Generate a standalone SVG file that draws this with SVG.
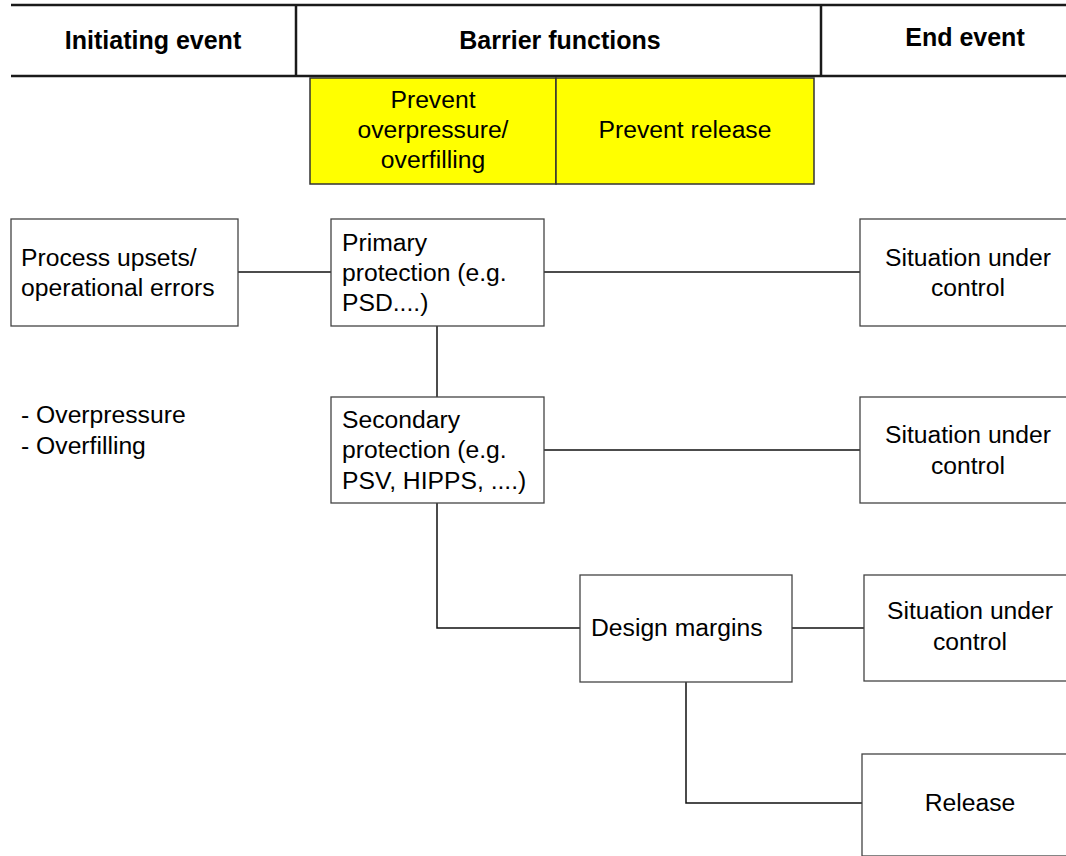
<svg xmlns="http://www.w3.org/2000/svg" width="1066" height="856" viewBox="0 0 1066 856">
  <style>
    text { font-family: "Liberation Sans", Arial, sans-serif; font-size: 24.7px; fill: #000; }
    .hdr { font-weight: bold; font-size: 25px; text-anchor: middle; }
    .mid { text-anchor: middle; }
    .hline { stroke: #1a1a1a; stroke-width: 2.5; fill: none; }
    .box { fill: #fff; stroke: #444; stroke-width: 1.3; }
    .ybox { fill: #ffff00; stroke: #333; stroke-width: 1.5; }
    .conn { stroke: #111; stroke-width: 1.5; fill: none; }
  </style>
  <rect width="1066" height="856" fill="#fff"/>

  <!-- column headings -->
  <g id="header">
    <line class="hline" x1="11" y1="5" x2="1066" y2="5"/>
    <line class="hline" x1="11" y1="76" x2="1066" y2="76"/>
    <line class="hline" x1="296" y1="5" x2="296" y2="76"/>
    <line class="hline" x1="821" y1="5" x2="821" y2="76"/>
    <text class="hdr" x="153" y="49">Initiating event</text>
    <text class="hdr" x="560" y="49">Barrier functions</text>
    <text class="hdr" x="965" y="46">End event</text>
  </g>

  <!-- barrier function bands -->
  <g id="prevent-overpressure">
    <rect class="ybox" x="310" y="78" width="246" height="106"/>
    <text class="mid" x="433" y="108">Prevent</text>
    <text class="mid" x="433" y="138">overpressure/</text>
    <text class="mid" x="433" y="168">overfilling</text>
  </g>
  <g id="prevent-release">
    <rect class="ybox" x="556" y="78" width="258" height="106"/>
    <text class="mid" x="685" y="138">Prevent release</text>
  </g>

  <!-- connectors -->
  <g id="connectors">
    <line class="conn" x1="238" y1="272" x2="331" y2="272"/>
    <line class="conn" x1="544" y1="272" x2="860" y2="272"/>
    <line class="conn" x1="437" y1="326" x2="437" y2="397"/>
    <line class="conn" x1="544" y1="450" x2="860" y2="450"/>
    <polyline class="conn" points="437,503 437,628 580,628"/>
    <line class="conn" x1="792" y1="628" x2="864" y2="628"/>
    <polyline class="conn" points="686,682 686,803 862,803"/>
  </g>

  <g id="process-upsets">
    <rect class="box" x="11" y="219" width="227" height="107"/>
    <text x="21" y="266">Process upsets/</text>
    <text x="21" y="296">operational errors</text>
  </g>

  <g id="initiating-list">
    <text x="21" y="423">- Overpressure</text>
    <text x="21" y="454">- Overfilling</text>
  </g>

  <g id="primary-protection">
    <rect class="box" x="331" y="219" width="213" height="107"/>
    <text x="342" y="251">Primary</text>
    <text x="342" y="281">protection (e.g.</text>
    <text x="342" y="311">PSD....)</text>
  </g>

  <g id="secondary-protection">
    <rect class="box" x="331" y="397" width="213" height="106"/>
    <text x="342" y="428">Secondary</text>
    <text x="342" y="458">protection (e.g.</text>
    <text x="342" y="489">PSV, HIPPS, ....)</text>
  </g>

  <g id="design-margins">
    <rect class="box" x="580" y="575" width="212" height="107"/>
    <text x="591" y="636">Design margins</text>
  </g>

  <g id="under-control-1">
    <rect class="box" x="860" y="219" width="210" height="107"/>
    <text class="mid" x="968" y="266">Situation under</text>
    <text class="mid" x="968" y="296">control</text>
  </g>

  <g id="under-control-2">
    <rect class="box" x="860" y="397" width="210" height="106"/>
    <text class="mid" x="968" y="443">Situation under</text>
    <text class="mid" x="968" y="474">control</text>
  </g>

  <g id="under-control-3">
    <rect class="box" x="864" y="575" width="206" height="106"/>
    <text class="mid" x="970" y="619">Situation under</text>
    <text class="mid" x="970" y="650">control</text>
  </g>

  <g id="release">
    <rect class="box" x="862" y="754" width="208" height="102"/>
    <text class="mid" x="970" y="811">Release</text>
  </g>
</svg>
